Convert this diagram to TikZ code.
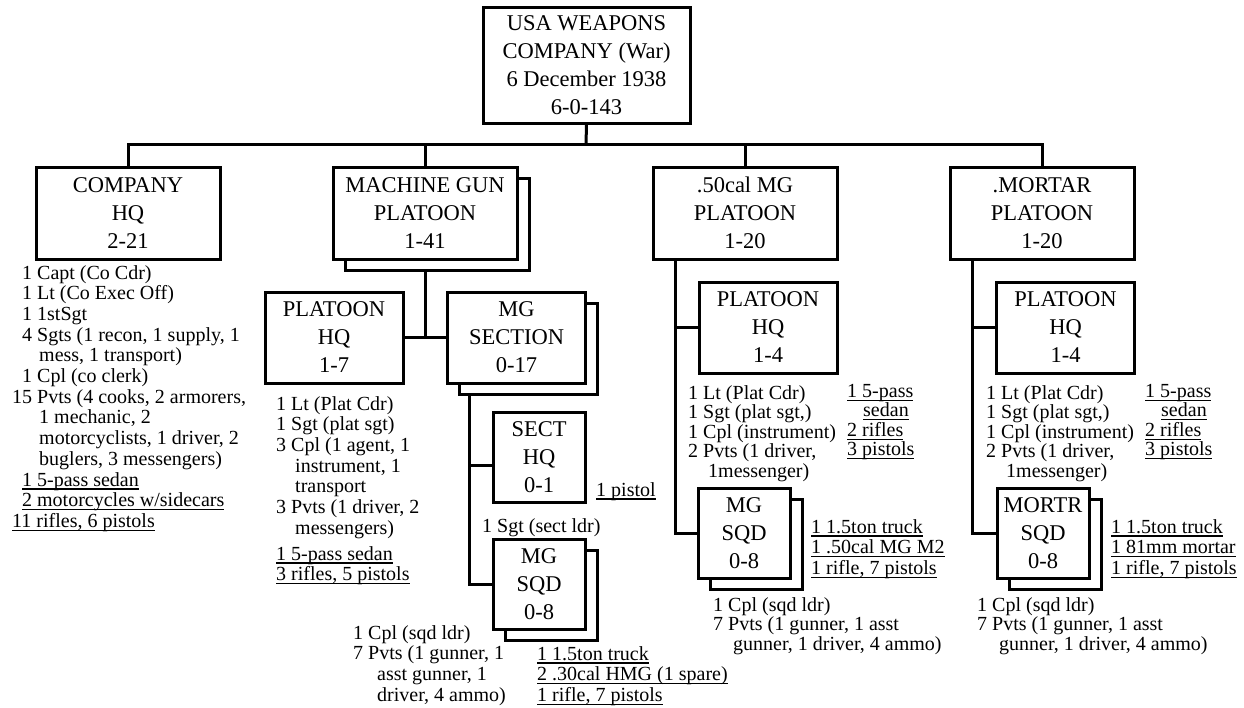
\documentclass[tikz,border=0pt]{standalone}
\usepackage{fontspec}
\setmainfont{Liberation Serif}
\usetikzlibrary{shadows,backgrounds}
\newcommand\undl[1]{\leavevmode\setbox0\hbox{#1}\rlap{\rule[-3.5pt]{\wd0}{1.3pt}}\box0}
\begin{document}
\begin{tikzpicture}[x=1pt,y=-1pt,
  unit/.style={draw,line width=3pt,fill=white,inner sep=0pt,align=center,font=\fontsize{22.5}{28}\selectfont},
  multi/.style={unit,copy shadow={shadow xshift=12pt,shadow yshift=-11pt,draw,fill=white,line width=3pt}},
  plt/.style={minimum width=184pt,minimum height=92pt},
  hq/.style={minimum width=138pt,minimum height=91pt},
  sqd/.style={minimum width=92pt,minimum height=90pt},
  list/.style={anchor=north west,inner sep=0pt,align=left,font=\fontsize{20}{20.7}\selectfont},
  tight/.style={list,font=\fontsize{20}{19.5}\selectfont},
  link/.style={line width=3pt}]
\useasboundingbox (0,0) rectangle (1244,707);
\node[unit,minimum width=207pt,minimum height=116pt] (top) at (586.5,65) {USA WEAPONS\\COMPANY (War)\\6 December 1938\\6-0-143};
\node[unit,plt] (coHQ) at (128,213) {COMPANY\\HQ\\2-21};
\node[multi,plt] (mgPlt) at (425,213) {MACHINE GUN\\PLATOON\\1-41};
\node[unit,plt] (fiftyPlt) at (745,213) {.50cal MG\\PLATOON\\1-20};
\node[unit,plt] (mortPlt) at (1042,213) {.MORTAR\\PLATOON\\1-20};
\node[unit,hq] (mgHQ) at (334,337.5) {PLATOON\\HQ\\1-7};
\node[multi,hq] (mgSect) at (516.5,337.5) {MG\\SECTION\\0-17};
\node[unit,sqd] (sectHQ) at (539,457) {SECT\\HQ\\0-1};
\node[multi,sqd] (mgSqd) at (539,584) {MG\\SQD\\0-8};
\node[unit,hq] (fiftyHQ) at (768,327.5) {PLATOON\\HQ\\1-4};
\node[multi,sqd] (fiftySqd) at (744,533) {MG\\SQD\\0-8};
\node[unit,hq] (mortHQ) at (1065.5,327.5) {PLATOON\\HQ\\1-4};
\node[multi,sqd] (mortSqd) at (1043,533) {MORTR\\SQD\\0-8};
\coordinate (bus) at (586,144);
\begin{scope}[on background layer]
\draw[link] (top.south) -- (bus);
\draw[link] (coHQ.north) -- (coHQ.north|-bus) -- (mortPlt.north|-bus) -- (mortPlt.north);
\draw[link] (mgPlt.north) -- (mgPlt.north|-bus);
\draw[link] (fiftyPlt.north) -- (fiftyPlt.north|-bus);
\draw[link] (mgPlt.south) -- (mgPlt.south|-mgHQ.east);
\draw[link] (mgHQ.east) -- (mgSect.west);
\draw[link] (mgSqd.west) -| ([xshift=23pt]mgSect.south west);
\draw[link] ([yshift=-8pt]sectHQ.west) -| ([xshift=23pt]mgSect.south west);
\draw[link] (fiftySqd.west) -| ([xshift=24pt]fiftyPlt.south west);
\draw[link] (fiftyHQ.west) -| ([xshift=24pt]fiftyPlt.south west);
\draw[link] (mortSqd.west) -| ([xshift=24pt]mortPlt.south west);
\draw[link] (mortHQ.west) -| ([xshift=24pt]mortPlt.south west);
\end{scope}
\node[list] (coHQcrew) at (12,265) {\phantom{1}1 Capt (Co Cdr)\\
\phantom{1}1 Lt (Co Exec Off)\\
\phantom{1}1 1stSgt\\
\phantom{1}4 Sgts (1 recon, 1 supply, 1\\
\hspace*{27pt}mess, 1 transport)\\
\phantom{1}1 Cpl (co clerk)\\
15 Pvts (4 cooks, 2 armorers,\\
\hspace*{27pt}1 mechanic, 2\\
\hspace*{27pt}motorcyclists, 1 driver, 2\\
\hspace*{27pt}buglers, 3 messengers)\\
\phantom{1}\undl{1 5-pass sedan}\\
\phantom{1}\undl{2 motorcycles w/sidecars}\\
\undl{11 rifles, 6 pistols}};
\node[list] (mgHQcrew) at (276,396) {1 Lt (Plat Cdr)\\
1 Sgt (plat sgt)\\
3 Cpl (1 agent, 1\\
\hspace*{19pt}instrument, 1\\
\hspace*{19pt}transport\\
3 Pvts (1 driver, 2\\
\hspace*{19pt}messengers)};
\node[list] (mgHQgear) at (276,546) {\undl{1 5-pass sedan}\\\undl{3 rifles, 5 pistols}};
\node[list] (sectHQgear) at (596,482) {\undl{1 pistol}};
\node[list] (sectHQcrew) at (482,518) {1 Sgt (sect ldr)};
\node[list] (mgSqdcrew) at (353,625) {1 Cpl (sqd ldr)\\
7 Pvts (1 gunner, 1\\
\hspace*{24pt}asst gunner, 1\\
\hspace*{24pt}driver, 4 ammo)};
\node[list] (mgSqdgear) at (537,646) {\undl{1 1.5ton truck}\\\undl{2 .30cal HMG (1 spare)}\\\undl{1 rifle, 7 pistols}};
\node[tight] (fiftyHQcrew) at (688,385) {1 Lt (Plat Cdr)\\
1 Sgt (plat sgt,)\\
1 Cpl (instrument)\\
2 Pvts (1 driver,\\
\hspace*{20pt}1messenger)};
\node[tight] (fiftyHQgear) at (847,384) {\undl{1 5-pass}\\\hspace*{16pt}\undl{sedan}\\\undl{2 rifles}\\\undl{3 pistols}};
\node[list] (fiftySqdgear) at (811,519) {\undl{1 1.5ton truck}\\\undl{1 .50cal MG M2}\\\undl{1 rifle, 7 pistols}};
\node[tight] (fiftySqdcrew) at (713,597) {1 Cpl (sqd ldr)\\
7 Pvts (1 gunner, 1 asst\\
\hspace*{20pt}gunner, 1 driver, 4 ammo)};
\node[tight] (mortHQcrew) at (986,385) {1 Lt (Plat Cdr)\\
1 Sgt (plat sgt,)\\
1 Cpl (instrument)\\
2 Pvts (1 driver,\\
\hspace*{20pt}1messenger)};
\node[tight] (mortHQgear) at (1145,384) {\undl{1 5-pass}\\\hspace*{16pt}\undl{sedan}\\\undl{2 rifles}\\\undl{3 pistols}};
\node[list] (mortSqdgear) at (1111,519) {\undl{1 1.5ton truck}\\\undl{1 81mm mortar}\\\undl{1 rifle, 7 pistols}};
\node[tight] (mortSqdcrew) at (977,597) {1 Cpl (sqd ldr)\\
7 Pvts (1 gunner, 1 asst\\
\hspace*{22pt}gunner, 1 driver, 4 ammo)};
\end{tikzpicture}
\end{document}
